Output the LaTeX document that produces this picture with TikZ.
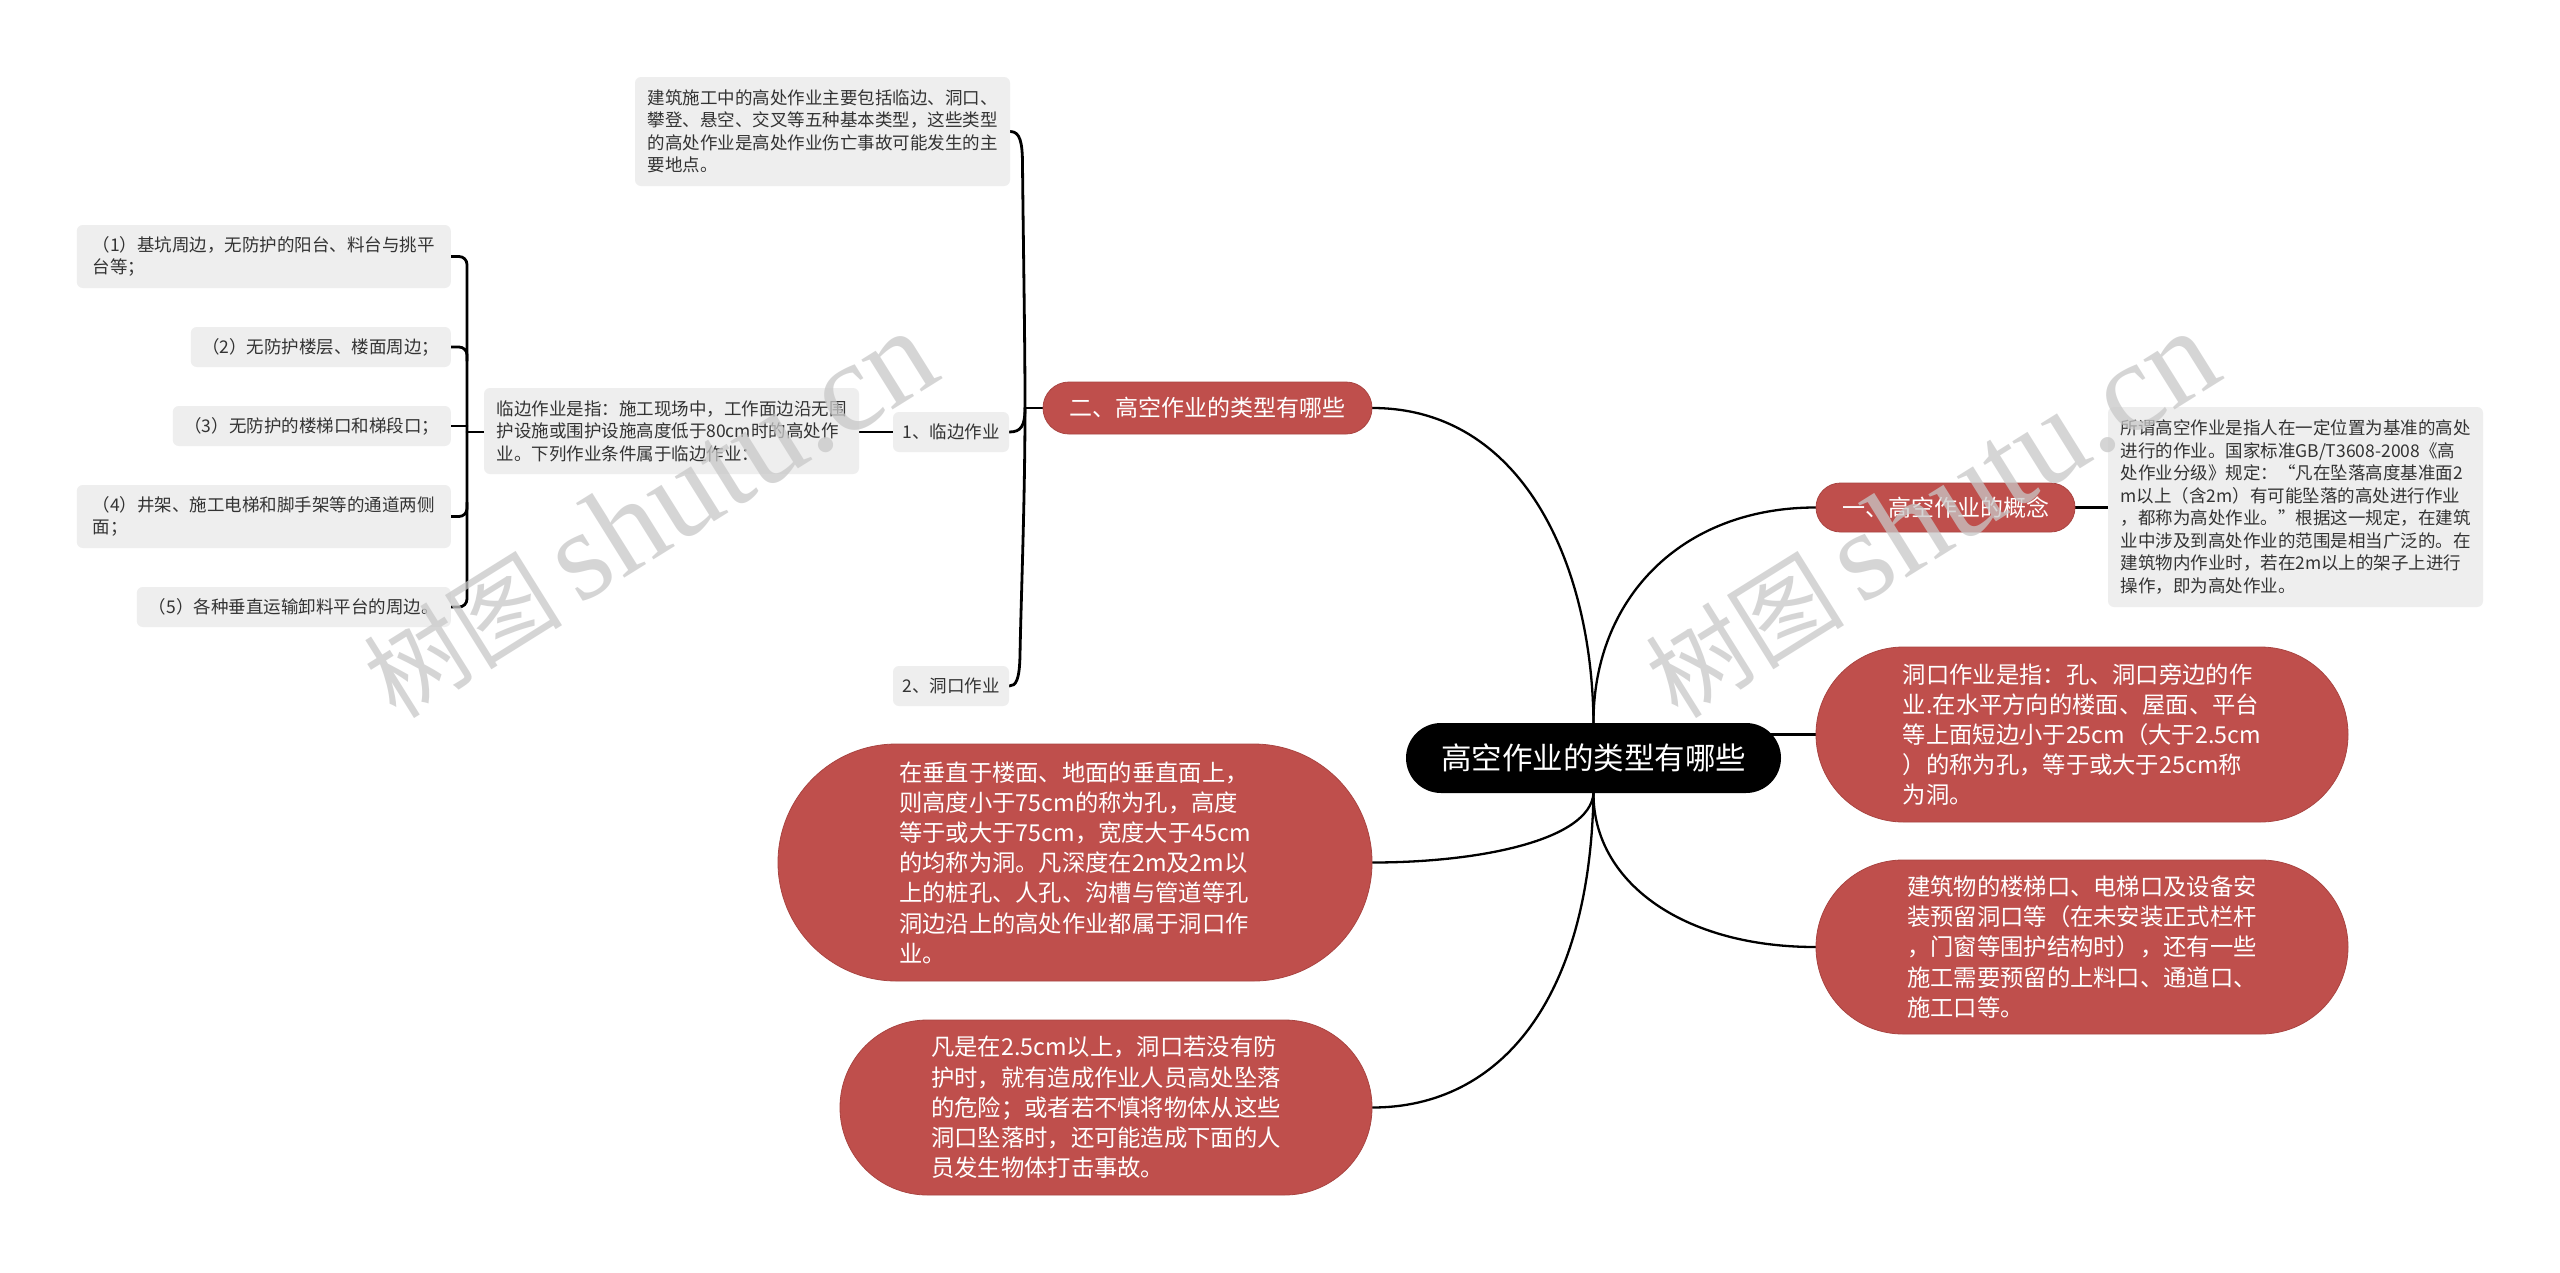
\documentclass[tikz,border=0pt]{standalone}
\usepackage{fontspec}
\setmainfont{Noto Sans CJK SC}
\newfontfamily\wmlat{Liberation Serif}
\usetikzlibrary{shapes.misc,backgrounds,calc}
\definecolor{redfill}{HTML}{BF4F4C}
\definecolor{redborder}{HTML}{A94441}
\definecolor{grayfill}{HTML}{EEEEEE}
\definecolor{graytext}{HTML}{333333}
\definecolor{wmgray}{HTML}{C8C8C8}
\begin{document}
\begin{tikzpicture}[x=1pt,y=-1pt,
  graybox/.style={rectangle, fill=grayfill, rounded corners=6pt, text=graytext,
    font=\fontsize{17.5}{22.5}\selectfont, align=left, inner sep=0pt},
  redpill/.style={shape=rounded rectangle, fill=redfill, draw=redborder, line width=0.8pt,
    text=white, font=\fontsize{23.3}{30.2}\selectfont, align=left, inner sep=0pt},
  rootpill/.style={shape=rounded rectangle, fill=black, text=white,
    font=\fontsize{30.5}{36}\selectfont, inner sep=0pt},
  conn/.style={line width=2.3pt, line cap=round},
  bracel/.style={line width=2.8pt, line cap=round},
  wmark/.style={rotate=32, text=wmgray, opacity=0.75, inner sep=0pt}
]
\useasboundingbox (0,0) rectangle (2560,1272);

% root
\node[rootpill, minimum width=375, minimum height=70] (root) at (1593.5,758) {高空作业的类型有哪些};

% main branches
\node[redpill, font=\fontsize{23}{28}\selectfont, minimum width=329, minimum height=52] (n2) at (1207.5,408) {二、高空作业的类型有哪些};
\node[redpill, font=\fontsize{23}{28}\selectfont, minimum width=259, minimum height=49] (n1) at (1945.5,507.5) {一、高空作业的概念};

\node[graybox, minimum width=375, minimum height=200] (concept) at (2295.5,507) {所谓高空作业是指人在一定位置为基准的高处\\进行的作业。国家标准GB/T3608-2008《高\\处作业分级》规定：“凡在坠落高度基准面2\\m以上（含2m）有可能坠落的高处进行作业\\，都称为高处作业。”根据这一规定，在建筑\\业中涉及到高处作业的范围是相当广泛的。在\\建筑物内作业时，若在2m以上的架子上进行\\操作，即为高处作业。};

\node[redpill, minimum width=532, minimum height=175] (ovA) at (2082,734.5) {洞口作业是指：孔、洞口旁边的作\\业.在水平方向的楼面、屋面、平台\\等上面短边小于25cm（大于2.5cm\\）的称为孔，等于或大于25cm称\\为洞。};
\node[redpill, minimum width=532, minimum height=174] (ovB) at (2082,947) {建筑物的楼梯口、电梯口及设备安\\装预留洞口等（在未安装正式栏杆\\，门窗等围护结构时），还有一些\\施工需要预留的上料口、通道口、\\施工口等。};
\node[redpill, minimum width=594, minimum height=237] (ovC) at (1075,862.5) {在垂直于楼面、地面的垂直面上，\\则高度小于75cm的称为孔，高度\\等于或大于75cm，宽度大于45cm\\的均称为洞。凡深度在2m及2m以\\上的桩孔、人孔、沟槽与管道等孔\\洞边沿上的高处作业都属于洞口作\\业。};
\node[redpill, minimum width=532, minimum height=175] (ovD) at (1106,1107.5) {凡是在2.5cm以上，洞口若没有防\\护时，就有造成作业人员高处坠落\\的危险；或者若不慎将物体从这些\\洞口坠落时，还可能造成下面的人\\员发生物体打击事故。};

% left subtree
\node[graybox, minimum width=375, minimum height=109] (top) at (822.5,131.5) {建筑施工中的高处作业主要包括临边、洞口、\\攀登、悬空、交叉等五种基本类型，这些类型\\的高处作业是高处作业伤亡事故可能发生的主\\要地点。};
\node[graybox, minimum width=116, minimum height=40] (lb) at (951,432) {1、临边作业};
\node[graybox, minimum width=116, minimum height=40] (dk) at (951,686) {2、洞口作业};
\node[graybox, minimum width=375, minimum height=86] (lz) at (671.5,431) {临边作业是指：施工现场中，工作面边沿无围\\护设施或围护设施高度低于80cm时的高处作\\业。下列作业条件属于临边作业：};

\node[graybox, anchor=east, minimum width=374, minimum height=63] (i1) at (451,256.5) {（1）基坑周边，无防护的阳台、料台与挑平\\台等；};
\node[graybox, anchor=east, minimum width=260, minimum height=40] (i2) at (451,347) {（2）无防护楼层、楼面周边；};
\node[graybox, anchor=east, minimum width=278, minimum height=40] (i3) at (451,426) {（3）无防护的楼梯口和梯段口；};
\node[graybox, anchor=east, minimum width=374, minimum height=63] (i4) at (451,516.5) {（4）井架、施工电梯和脚手架等的通道两侧\\面；};
\node[graybox, anchor=east, minimum width=314, minimum height=40] (i5) at (451,607) {（5）各种垂直运输卸料平台的周边。};

\coordinate (sp) at (1025,408);
\coordinate (ls) at (467,432);

\begin{pgfonlayer}{background}
\fill[white] (0,0) rectangle (2560,1272);
% root connectors
\draw[conn] (n2.east) .. controls (1520,408) and (1592,560) .. (root.north);
\draw[conn] (root.north) .. controls (1593,600) and (1680,507.5) .. (n1.west);
\draw[conn] (root.center |- ovA.west) -- (ovA.west);
\draw[conn] (root.south) .. controls (1593,880) and (1680,947) .. (ovB.west);
\draw[conn] (root.south) .. controls (1590,840) and (1480,862.5) .. (ovC.east);
\draw[conn] (root.south) .. controls (1590,1000) and (1500,1107.5) .. (ovD.east);
% concept
\draw[conn] (n1.east) -- (concept.west |- n1.east);
% brace of n2
\draw[bracel] (n2.west) -- (sp);
\draw[bracel] (top.east) .. controls (1020,131.5) and (1022.5,142) .. (1022.5,165) .. controls (1023.5,260) and (1025,340) .. (sp);
\draw[bracel] (lb.east) .. controls (1021,432) and (1025,426) .. (sp);
\draw[bracel] (sp) .. controls (1025,500) and (1021,600) .. (1020,655) .. controls (1019.5,680) and (1016,686) .. (dk.east);
% lb to lz
\draw[bracel] (lb.west) -- (lz.east |- lb.west);
% items bracket
\draw[bracel] (lz.west |- ls) -- (ls);
\draw[bracel, rounded corners=8pt] (i1.east) -- (ls |- i1.east) -- (ls |- i5.east) -- (i5.east);
\draw[bracel, rounded corners=8pt] (i2.east) -| ($(ls |- i2.east)+(0,14)$);
\draw[bracel] (i3.east) -- (ls |- i3.east);
\draw[bracel, rounded corners=8pt] (i4.east) -| ($(ls |- i4.east)+(0,-14)$);
\end{pgfonlayer}

% watermarks
\node[wmark] (wm1) at (649,515) {\fontsize{100}{100}\selectfont 树图\,{\wmlat\fontsize{128}{128}\selectfont shutu.cn}};
\node[wmark] (wm2) at (1931,515) {\fontsize{100}{100}\selectfont 树图\,{\wmlat\fontsize{128}{128}\selectfont shutu.cn}};
\end{tikzpicture}
\end{document}
